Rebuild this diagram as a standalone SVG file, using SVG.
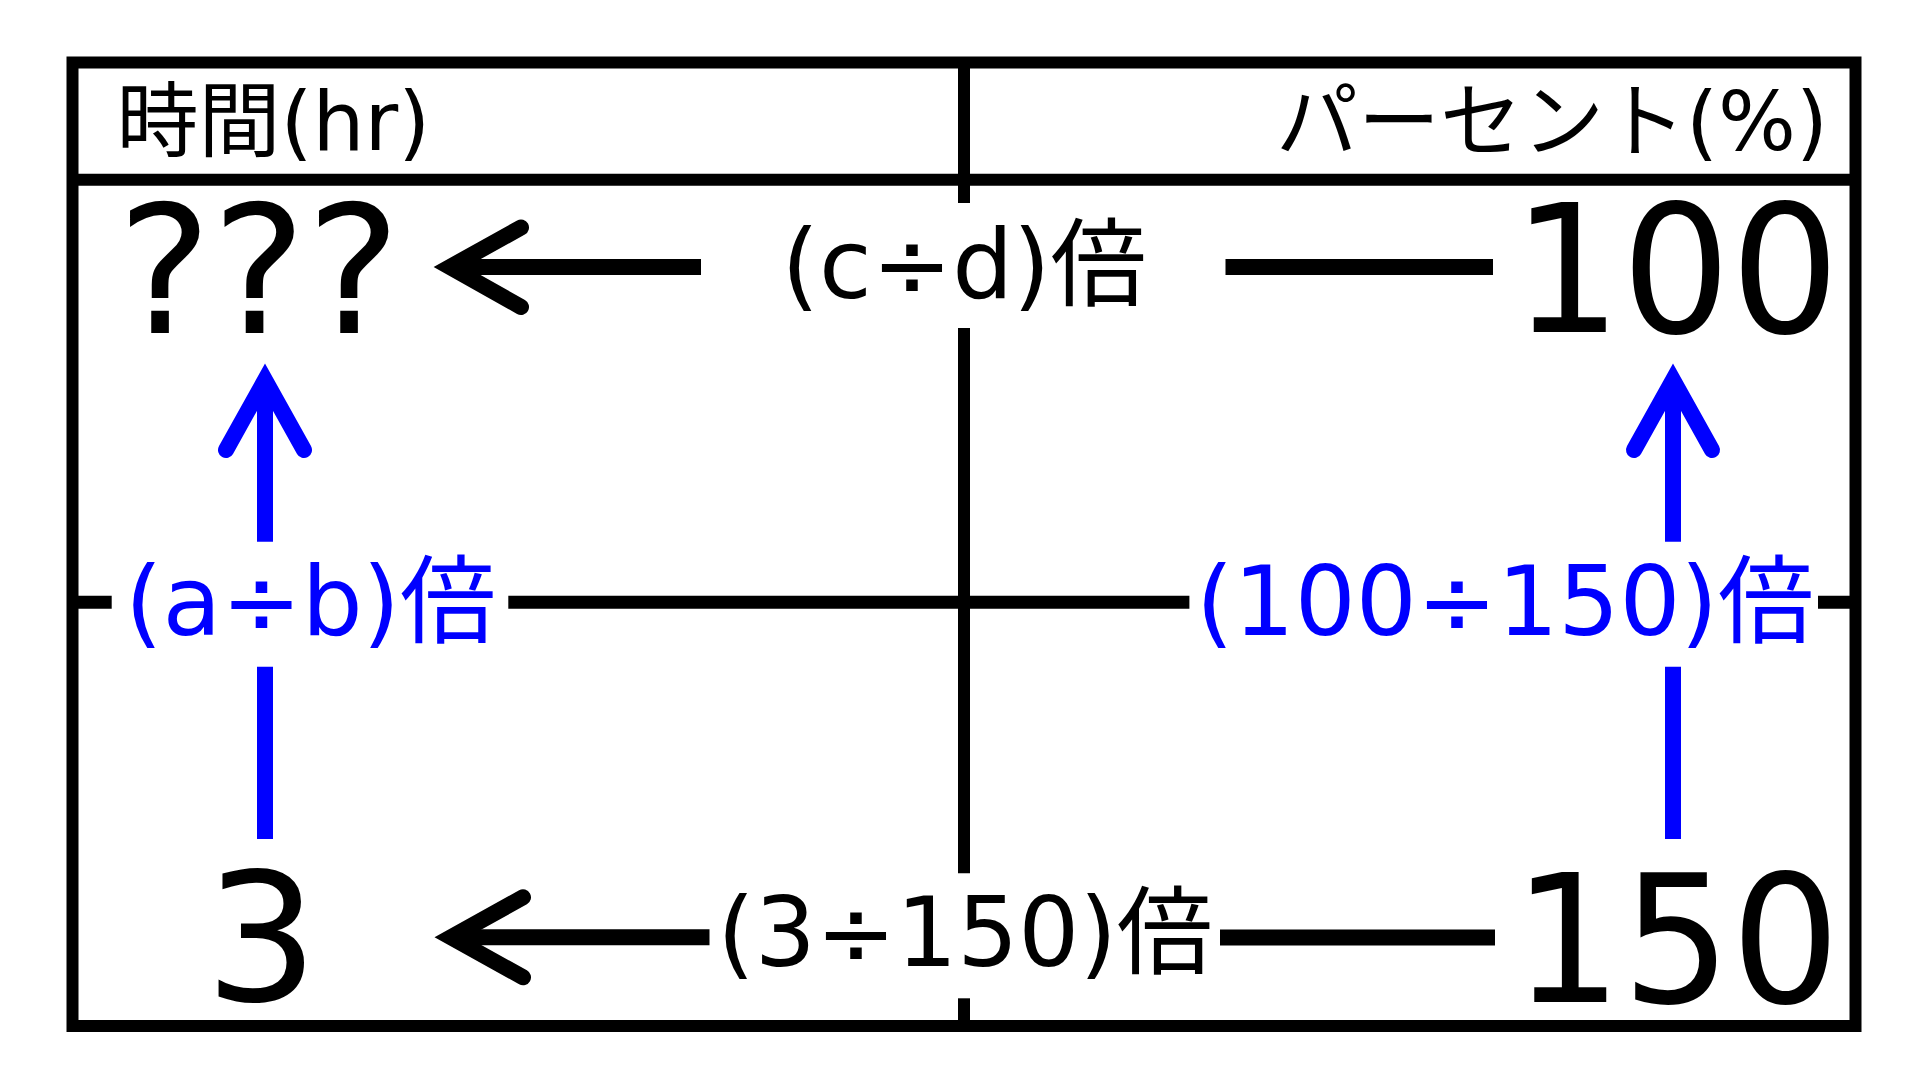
<svg xmlns="http://www.w3.org/2000/svg" width="1920" height="1080" viewBox="0 0 1920 1080">
<style>
text{font-family:'DejaVu Sans','Noto Sans CJK JP',sans-serif;fill:#000}
.hdr{font-size:82px}
.num{font-size:178px}
.lbl{font-size:96px}
.blue{fill:#0000FF}
.frame{fill:none;stroke:#000;stroke-width:12}
.grid{stroke:#000;stroke-width:12;fill:none}
.mid{stroke:#000;stroke-width:13;fill:none}
.shaft{stroke:#000;stroke-width:16;fill:none}
.head{stroke:#000;stroke-width:16;fill:none;stroke-linecap:round;stroke-linejoin:miter;stroke-miterlimit:6}
.bshaft{stroke:#0000FF;stroke-width:16;fill:none}
.bhead{stroke:#0000FF;stroke-width:16;fill:none;stroke-linecap:round;stroke-linejoin:miter;stroke-miterlimit:6}
</style>
<rect width="1920" height="1080" fill="#fff"/>
<g id="table">
<rect class="frame" x="72.5" y="62.5" width="1783" height="963.5"/>
<line class="grid" x1="72.5" y1="179.7" x2="1855.5" y2="179.7"/>
<line class="grid" x1="964" y1="62.5" x2="964" y2="203"/>
<line class="grid" x1="964" y1="328" x2="964" y2="873.3"/>
<line class="grid" x1="964" y1="998.3" x2="964" y2="1026"/>
<line class="mid" x1="72.5" y1="602.3" x2="111.7" y2="602.3"/>
<line class="mid" x1="508.3" y1="602.3" x2="1189.4" y2="602.3"/>
<line class="mid" x1="1818" y1="602.3" x2="1855.5" y2="602.3"/>
</g>
<g id="header-time"><text class="hdr" x="116.5" y="150">時間(hr)</text></g>
<g id="header-percent"><text class="hdr" x="1276" y="150">パーセント(%)</text></g>
<g id="node-unknown"><text class="num" x="259" y="333" text-anchor="middle">???</text></g>
<g id="node-100"><text class="num" x="1512.5" y="332" textLength="327" lengthAdjust="spacingAndGlyphs">100</text></g>
<g id="node-3"><text class="num" x="261.5" y="1000" text-anchor="middle">3</text></g>
<g id="node-150"><text class="num" x="1513" y="1001.5" textLength="327" lengthAdjust="spacingAndGlyphs">150</text></g>
<g id="connectors">
<line class="shaft" x1="450" y1="267" x2="701" y2="267"/>
<polyline class="head" points="521,227.5 450,267 521,307"/>
<line class="shaft" x1="1225.5" y1="267" x2="1493" y2="267"/>
<line class="shaft" x1="451" y1="937.3" x2="709.5" y2="937.3"/>
<polyline class="head" points="523,897.3 451,937.3 523,977.3"/>
<line class="shaft" x1="1220" y1="937.5" x2="1495" y2="937.5"/>
<line class="bshaft" x1="265" y1="380" x2="265" y2="541.7"/>
<line class="bshaft" x1="265" y1="666.7" x2="265" y2="839"/>
<polyline class="bhead" points="226,450 265,380 304,450"/>
<line class="bshaft" x1="1673" y1="380" x2="1673" y2="541.7"/>
<line class="bshaft" x1="1673" y1="666.7" x2="1673" y2="839"/>
<polyline class="bhead" points="1634,450 1673,380 1712,450"/>
</g>
<g id="label-cd"><text class="lbl" x="964" y="298" text-anchor="middle">(c÷d)倍</text></g>
<g id="label-ab"><text class="lbl blue" x="310.5" y="635" text-anchor="middle">(a÷b)倍</text></g>
<g id="label-100-150"><text class="lbl blue" x="1505" y="635" text-anchor="middle">(100÷150)倍</text></g>
<g id="label-3-150"><text class="lbl" x="965" y="966" text-anchor="middle">(3÷150)倍</text></g>
</svg>
